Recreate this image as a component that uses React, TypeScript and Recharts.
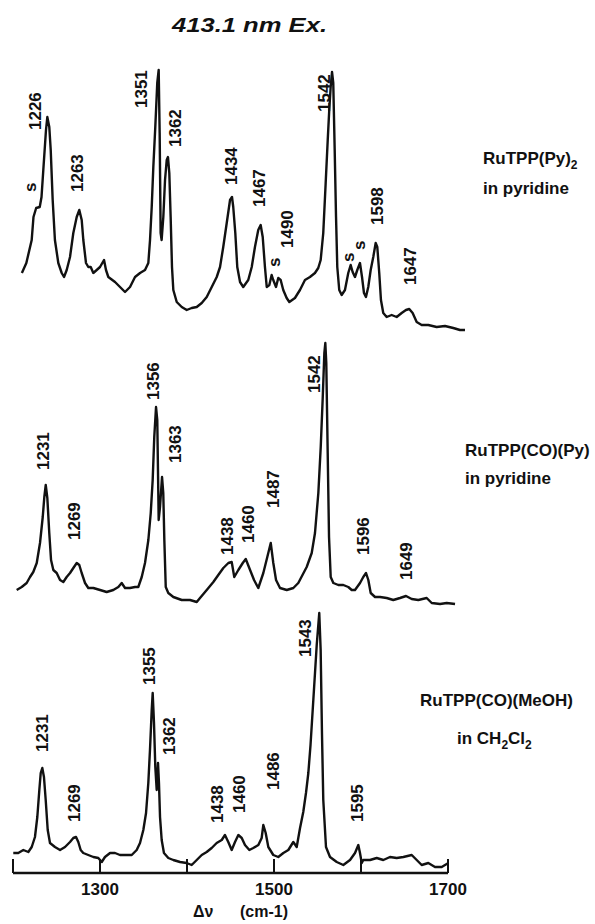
import { LineChart, Line, XAxis, YAxis, ReferenceDot, ReferenceLine } from "recharts";

const FONT = '"Liberation Sans", Arial, Helvetica, sans-serif';
const INK = "#111";

// Raman shift (cm-1) vs. relative intensity
const pyTrace: [number, number][] = [
  [1198, 67], [1203, 77], [1209, 100], [1211, 123], [1214, 132], [1218, 133], [1220, 143], [1222, 170],
  [1225, 210], [1226.5, 223], [1228.7, 213], [1230.3, 190], [1232.5, 140], [1235, 100], [1238.8, 77],
  [1242.6, 67], [1245.2, 63], [1248.2, 70], [1251.9, 83], [1255.6, 107], [1259.4, 123], [1262.3, 130],
  [1265, 120], [1266.8, 100], [1269.8, 77], [1272.4, 73], [1275.1, 73], [1278, 67], [1281.8, 70],
  [1285.5, 73], [1290, 80], [1292.2, 70], [1294.8, 63], [1302.3, 58], [1307.9, 53], [1313.5, 48],
  [1319.1, 53], [1324.7, 63], [1330.3, 67], [1335.9, 70], [1339.6, 77], [1341.5, 100], [1343.4, 133],
  [1345.2, 173], [1347.4, 213], [1349.6, 257], [1351.2, 270], [1352.3, 207], [1353.4, 107], [1354.5, 100],
  [1356.4, 123], [1358.3, 160], [1360.2, 180], [1361.6, 183], [1363.1, 167], [1364.6, 123], [1366.1, 73],
  [1367.6, 50], [1371.4, 38], [1377, 33], [1382.6, 30], [1388.2, 32], [1393.8, 33], [1399.4, 37],
  [1405, 43], [1410.6, 53], [1416.2, 63], [1419.9, 73], [1423.5, 93], [1427.4, 117], [1431.1, 140],
  [1433.3, 143], [1434.7, 133], [1437, 107], [1439.2, 73], [1442.3, 58], [1445.9, 53], [1451.5, 60],
  [1455.4, 73], [1459, 93], [1462.7, 110], [1465.4, 115], [1467.7, 103], [1470.2, 73], [1472.2, 53],
  [1475.1, 55], [1477.7, 65], [1479.5, 60], [1482.6, 53], [1485.1, 62], [1487.8, 60], [1490.7, 50],
  [1494.5, 42], [1497.5, 38], [1503.8, 42], [1509.4, 50], [1515, 60], [1520.6, 63], [1526.2, 67],
  [1529.9, 72], [1532.6, 80], [1535.5, 107], [1538.2, 157], [1540.5, 200], [1542.2, 230], [1543.8, 253],
  [1545.3, 268], [1546.7, 257], [1548.3, 190], [1549.8, 123], [1551.2, 73], [1553.4, 50], [1556.1, 45],
  [1559.8, 50], [1563.5, 67], [1566.2, 75], [1568.4, 68], [1571, 63], [1573.6, 70], [1576.6, 77],
  [1578.9, 63], [1581.1, 47], [1583.3, 43], [1585.9, 53], [1588.6, 70], [1591.5, 83], [1594.2, 97],
  [1596, 93], [1598.2, 67], [1600.1, 40], [1602.7, 27], [1606.5, 23], [1612.1, 25], [1617.7, 23],
  [1623.3, 27], [1628.1, 30], [1631.8, 31], [1635.6, 27], [1640.1, 18], [1645.7, 15], [1653.1, 15],
  [1662.5, 13], [1671.8, 14], [1681.1, 12], [1688.6, 10], [1694.2, 10],
];

const coPyTrace: [number, number][] = [
  [1197.3, 10], [1203, 13], [1208.6, 17], [1212.4, 23], [1216.1, 28], [1220, 37], [1223.7, 57],
  [1226.8, 83], [1228.6, 103], [1230.2, 115], [1232, 102], [1234.2, 67], [1236.2, 40], [1238.8, 30],
  [1242.6, 27], [1246.4, 20], [1250.1, 18], [1253.9, 23], [1257.7, 27], [1262.2, 33], [1265.3, 37],
  [1268.2, 35], [1270.9, 27], [1274.7, 17], [1278.4, 12], [1284.1, 12], [1291.7, 10], [1299.2, 8],
  [1306.7, 10], [1312.4, 13], [1316.2, 17], [1320, 12], [1325.6, 12], [1331.3, 13], [1335, 13],
  [1338.9, 23], [1342.6, 37], [1346.4, 60], [1349.1, 87], [1351.3, 120], [1353.1, 163], [1355.1, 193],
  [1356.5, 180], [1358.1, 80], [1359.6, 93], [1361.9, 123], [1363.3, 107], [1364.5, 60], [1366.1, 13],
  [1369, 7], [1374.7, 3], [1384.2, 0], [1393.6, 0], [1401.2, -2], [1404.9, 2], [1412.5, 10], [1420, 18],
  [1425.6, 25], [1431.3, 32], [1437, 37], [1440.8, 38], [1443.7, 23], [1448.3, 30], [1453.3, 37],
  [1456.7, 41], [1460.7, 32], [1466.1, 20], [1470.9, 12], [1476.6, 27], [1481.1, 43], [1485, 57],
  [1487.9, 37], [1491, 20], [1495.5, 12], [1503.1, 10], [1510.6, 12], [1516.2, 17], [1525.7, 33],
  [1531.4, 47], [1535.1, 67], [1538.9, 107], [1541.6, 153], [1543.9, 203], [1545.7, 247], [1546.8, 257],
  [1547.9, 237], [1549.5, 147], [1551, 63], [1552.9, 23], [1555.9, 17], [1561.5, 15], [1567.2, 15],
  [1572.8, 13], [1576.7, 10], [1580.4, 10], [1586.1, 17], [1589.8, 23], [1592.9, 27], [1595.5, 20],
  [1598.2, 7], [1603.1, 3], [1608.8, 3], [1616.3, 2], [1623.8, 0], [1631.4, 2], [1638.2, 4],
  [1644.6, 1], [1652.1, 0], [1661.6, 2], [1667.3, -3], [1676.7, -4], [1684.3, -3], [1693.7, -4],
];

const meohTrace: [number, number][] = [
  [1197.1, 20], [1202.8, 20], [1208.6, 23], [1214.3, 21], [1218.2, 26], [1221.9, 36], [1224.6, 56],
  [1226.9, 83], [1228.5, 100], [1230.3, 105], [1232.2, 96], [1234.2, 73], [1236.5, 43], [1239.1, 30],
  [1244.8, 26], [1250.6, 23], [1256.3, 26], [1262, 31], [1265.8, 35], [1268.9, 36], [1271.5, 31],
  [1274.2, 23], [1277.2, 20], [1282.9, 18], [1288.7, 16], [1294.4, 15], [1298.3, 11], [1302, 16],
  [1307.8, 20], [1313.5, 20], [1319.2, 18], [1324.9, 18], [1332.6, 18], [1338.3, 23], [1342.1, 30],
  [1345.9, 43], [1349, 60], [1351.6, 90], [1353.5, 123], [1355.5, 163], [1356.6, 180], [1358.1, 150],
  [1359.6, 106], [1361.2, 83], [1362.7, 110], [1363.8, 90], [1365, 56], [1366.9, 33], [1369.5, 20],
  [1374.5, 15], [1380.2, 13], [1387.9, 11], [1395.5, 10], [1401.2, 8], [1407, 13], [1412.7, 18],
  [1418.4, 21], [1424.1, 25], [1429.8, 30], [1435.6, 33], [1439.3, 38], [1443.1, 31], [1447, 23],
  [1450.8, 31], [1454.6, 38], [1458.5, 35], [1462.2, 28], [1467.2, 23], [1471.7, 25], [1477.5, 28],
  [1481.3, 35], [1483.2, 48], [1485.9, 40], [1488.9, 26], [1494.6, 18], [1500.3, 16], [1506.1, 20],
  [1511.8, 23], [1517.5, 31], [1521.4, 26], [1525.2, 45], [1528.9, 61], [1532, 80], [1534.7, 100],
  [1537.2, 128], [1540.4, 173], [1544.3, 228], [1547.2, 260], [1548.8, 223], [1550.3, 140], [1551.8, 73],
  [1554.9, 26], [1559.5, 16], [1567.2, 11], [1574.7, 8], [1582.4, 13], [1588.1, 20], [1591.9, 28],
  [1593.8, 20], [1595.8, 10], [1597.6, 13], [1605.3, 13], [1612.9, 15], [1620.5, 13], [1628.1, 16],
  [1635.8, 15], [1643.4, 16], [1653, 18], [1658.7, 13], [1664.4, 8], [1672, 10], [1679.6, 6],
  [1687.3, 6], [1694.9, 10],
];

// band labels: text, shift where the label sits, intensity at its lower end
const pyLabels = [
  { text: "s", x: 1207.1, y: 148 },
  { text: "1226", x: 1212.7, y: 210 },
  { text: "1263", x: 1260.8, y: 148 },
  { text: "1351", x: 1332.5, y: 232 },
  { text: "1362", x: 1369.5, y: 193 },
  { text: "1434", x: 1433.3, y: 155 },
  { text: "1467", x: 1464.6, y: 133 },
  { text: "s", x: 1481.4, y: 73 },
  { text: "1490", x: 1494.9, y: 92 },
  { text: "1542", x: 1537.4, y: 228 },
  { text: "s", x: 1564.3, y: 78 },
  { text: "s", x: 1576.6, y: 90 },
  { text: "1598", x: 1595.7, y: 115 },
  { text: "1647", x: 1633.7, y: 55 },
];

const coPyLabels = [
  { text: "1231", x: 1227.1, y: 130 },
  { text: "1269", x: 1263.3, y: 60 },
  { text: "1356", x: 1351.7, y: 200 },
  { text: "1363", x: 1376.6, y: 137 },
  { text: "1438", x: 1435.5, y: 45 },
  { text: "1460", x: 1459.3, y: 57 },
  { text: "1487", x: 1487.6, y: 92 },
  { text: "1542", x: 1534, y: 207 },
  { text: "1596", x: 1590.6, y: 45 },
  { text: "1649", x: 1638.2, y: 20 },
];

const meohLabels = [
  { text: "1231", x: 1231.1, y: 121 },
  { text: "1269", x: 1267.7, y: 51 },
  { text: "1355", x: 1353.5, y: 188 },
  { text: "1362", x: 1376.4, y: 118 },
  { text: "1438", x: 1430.2, y: 50 },
  { text: "1460", x: 1456.5, y: 60 },
  { text: "1486", x: 1494.3, y: 83 },
  { text: "1543", x: 1530.9, y: 216 },
  { text: "1595", x: 1591.5, y: 51 },
];

const axisTicks = [1200, 1300, 1400, 1500, 1600, 1700];
const axisLabels = [1300, 1500, 1700];

// each trace in the figure is drawn to a slightly different shift scale
const panels = [
  { id: "py", trace: pyTrace, labels: pyLabels, x: [1173.5, 1839.8], y: [-533, 340] },
  { id: "copy", trace: coPyTrace, labels: coPyLabels, x: [1178.4, 1852.2], y: [-273, 600] },
  { id: "meoh", trace: meohTrace, labels: meohLabels, x: [1181.9, 1862.7], y: [0, 873] },
];

function BandLabel({ cx, cy, text }: { cx: number; cy: number; text: string }) {
  return (
    <text
      x={cx}
      y={cy}
      transform={`rotate(-90 ${cx} ${cy})`}
      dominantBaseline="central"
      fontFamily={FONT}
      fontSize={17}
      fontWeight={700}
      fill={INK}
    >
      {text}
    </text>
  );
}

function AxisTick(props: any) {
  const { x, y, payload } = props;
  return (
    <g>
      <line x1={x} x2={x} y1={y} y2={y - 14} stroke={INK} strokeWidth={2} />
      {axisLabels.includes(payload.value) && (
        <text x={x} y={y + 22} textAnchor="middle" fontFamily={FONT} fontSize={17} fontWeight={700} fill={INK}>
          {payload.value}
        </text>
      )}
    </g>
  );
}

export default function App() {
  const txt = { fontFamily: FONT, fontSize: 17, fontWeight: 700, fill: INK } as const;
  return (
    <div style={{ position: "absolute", left: 0, top: 0, width: 595, height: 924, background: "#fff" }}>
      <LineChart width={595} height={924} margin={{ top: 0, right: 0, bottom: 0, left: 0 }}>
        <XAxis
          xAxisId="axis"
          type="number"
          dataKey="wn"
          domain={[1185.06, 1868.97]}
          allowDataOverflow
          ticks={axisTicks}
          tick={<AxisTick />}
          tickLine={false}
          axisLine={false}
          tickSize={0}
          tickMargin={0}
          height={51}
          interval={0}
        />
        {panels.map((p) => (
          <XAxis key={"x" + p.id} xAxisId={p.id} type="number" dataKey="wn" domain={p.x} allowDataOverflow hide />
        ))}
        {panels.map((p) => (
          <YAxis key={"y" + p.id} yAxisId={p.id} type="number" domain={p.y} allowDataOverflow hide />
        ))}
        <ReferenceLine
          xAxisId="axis"
          yAxisId="meoh"
          segment={[{ x: 1200, y: 0 }, { x: 1700, y: 0 }]}
          stroke={INK}
          strokeWidth={2.5}
        />
        {panels.map((p) => (
          <Line
            key={"l" + p.id}
            xAxisId={p.id}
            yAxisId={p.id}
            data={p.trace.map(([wn, i]) => ({ wn, i }))}
            dataKey="i"
            type="linear"
            stroke={INK}
            strokeWidth={2.4}
            strokeLinejoin="round"
            dot={false}
            activeDot={false}
            isAnimationActive={false}
          />
        ))}
        {panels.flatMap((p) =>
          p.labels.map((l, k) => (
            <ReferenceDot
              key={p.id + k}
              xAxisId={p.id}
              yAxisId={p.id}
              x={l.x}
              y={l.y}
              r={0}
              shape={(s: any) => <BandLabel cx={s.cx} cy={s.cy} text={l.text} />}
            />
          ))
        )}
      </LineChart>
      <svg width={595} height={924} style={{ position: "absolute", left: 0, top: 0, pointerEvents: "none" }}>
        <text
          x={172}
          y={32}
          textLength={155}
          lengthAdjust="spacingAndGlyphs"
          fontFamily={FONT}
          fontSize={20}
          fontWeight={700}
          fontStyle="italic"
          fill={INK}
        >
          413.1 nm Ex.
        </text>

        <text x={483} y={164} {...txt}>
          RuTPP(Py)<tspan fontSize={12} dy={5}>2</tspan>
        </text>
        <text x={483} y={194} {...txt}>in pyridine</text>

        <text x={465} y={456} {...txt}>RuTPP(CO)(Py)</text>
        <text x={465} y={484} {...txt}>in pyridine</text>

        <text x={420} y={706} {...txt}>RuTPP(CO)(MeOH)</text>
        <text x={457} y={744} {...txt}>
          in CH<tspan fontSize={12} dy={5}>2</tspan>
          <tspan dy={-5}>Cl</tspan>
          <tspan fontSize={12} dy={5}>2</tspan>
        </text>

        <text y={917} fontFamily={FONT} fontSize={16} fontWeight={700} fill={INK}>
          <tspan x={193}>Δν</tspan>
          <tspan x={240}>(cm-1)</tspan>
        </text>
      </svg>
    </div>
  );
}
